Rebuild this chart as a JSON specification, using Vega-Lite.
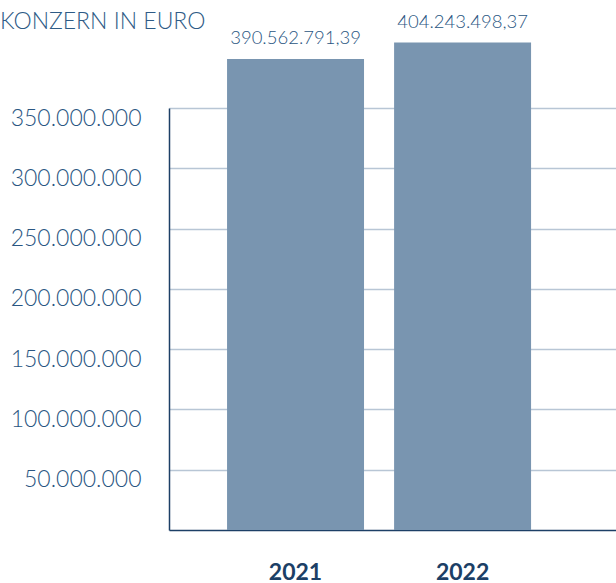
{
  "$schema": "https://vega.github.io/schema/vega-lite/v6.json",
  "width": 447,
  "height": 422,
  "autosize": {"type": "none"},
  "padding": {"left": 169, "top": 108, "right": 0, "bottom": 53},
  "config": {
    "view": {"stroke": null},
    "locale": {"number": {"decimal": ",", "thousands": ".", "grouping": [3], "currency": ["", " €"]}}
  },
  "title": {
    "text": "KONZERN IN EURO",
    "anchor": "start",
    "frame": "group",
    "dx": -169,
    "offset": 0,
    "dy": 39,
    "baseline": "alphabetic",
    "font": "Lato",
    "fontSize": 23,
    "fontWeight": 300,
    "color": "#2e5b86"
  },
  "data": {
    "values": [
      {"jahr": "2021", "wert": 390562791.39},
      {"jahr": "2022", "wert": 404243498.37}
    ]
  },
  "encoding": {
    "x": {
      "field": "jahr",
      "type": "nominal",
      "scale": {"paddingInner": 0.18, "paddingOuter": 0.428, "align": 0.406},
      "axis": {
        "title": null,
        "labelAngle": 0,
        "ticks": false,
        "domainColor": "#1c3f66",
        "domainWidth": 1.5,
        "labelBaseline": "alphabetic",
        "labelPadding": 49,
        "labelFont": "Lato",
        "labelFontSize": 23,
        "labelFontWeight": "bold",
        "labelColor": "#1c3f66"
      }
    },
    "y": {
      "field": "wert",
      "type": "quantitative",
      "scale": {"domain": [0, 350000000], "nice": false},
      "axis": {
        "title": null,
        "values": [50000000, 100000000, 150000000, 200000000, 250000000, 300000000, 350000000],
        "format": ",d",
        "ticks": false,
        "domainColor": "#1c3f66",
        "domainWidth": 1.5,
        "grid": true,
        "gridColor": "#b8c6d5",
        "gridWidth": 1.5,
        "labelBaseline": "alphabetic",
        "labelOffset": 17,
        "labelPadding": 28,
        "labelFont": "Lato",
        "labelFontSize": 23,
        "labelFontWeight": 300,
        "labelColor": "#2a5682"
      }
    }
  },
  "layer": [
    {"mark": {"type": "bar", "color": "#7995b0", "clip": false}},
    {
      "mark": {
        "type": "text",
        "baseline": "alphabetic",
        "dy": -15,
        "font": "Lato",
        "fontSize": 18.5,
        "fontWeight": 300,
        "color": "#2a5682"
      },
      "encoding": {"text": {"field": "wert", "type": "quantitative", "format": ",.2f"}}
    }
  ]
}
